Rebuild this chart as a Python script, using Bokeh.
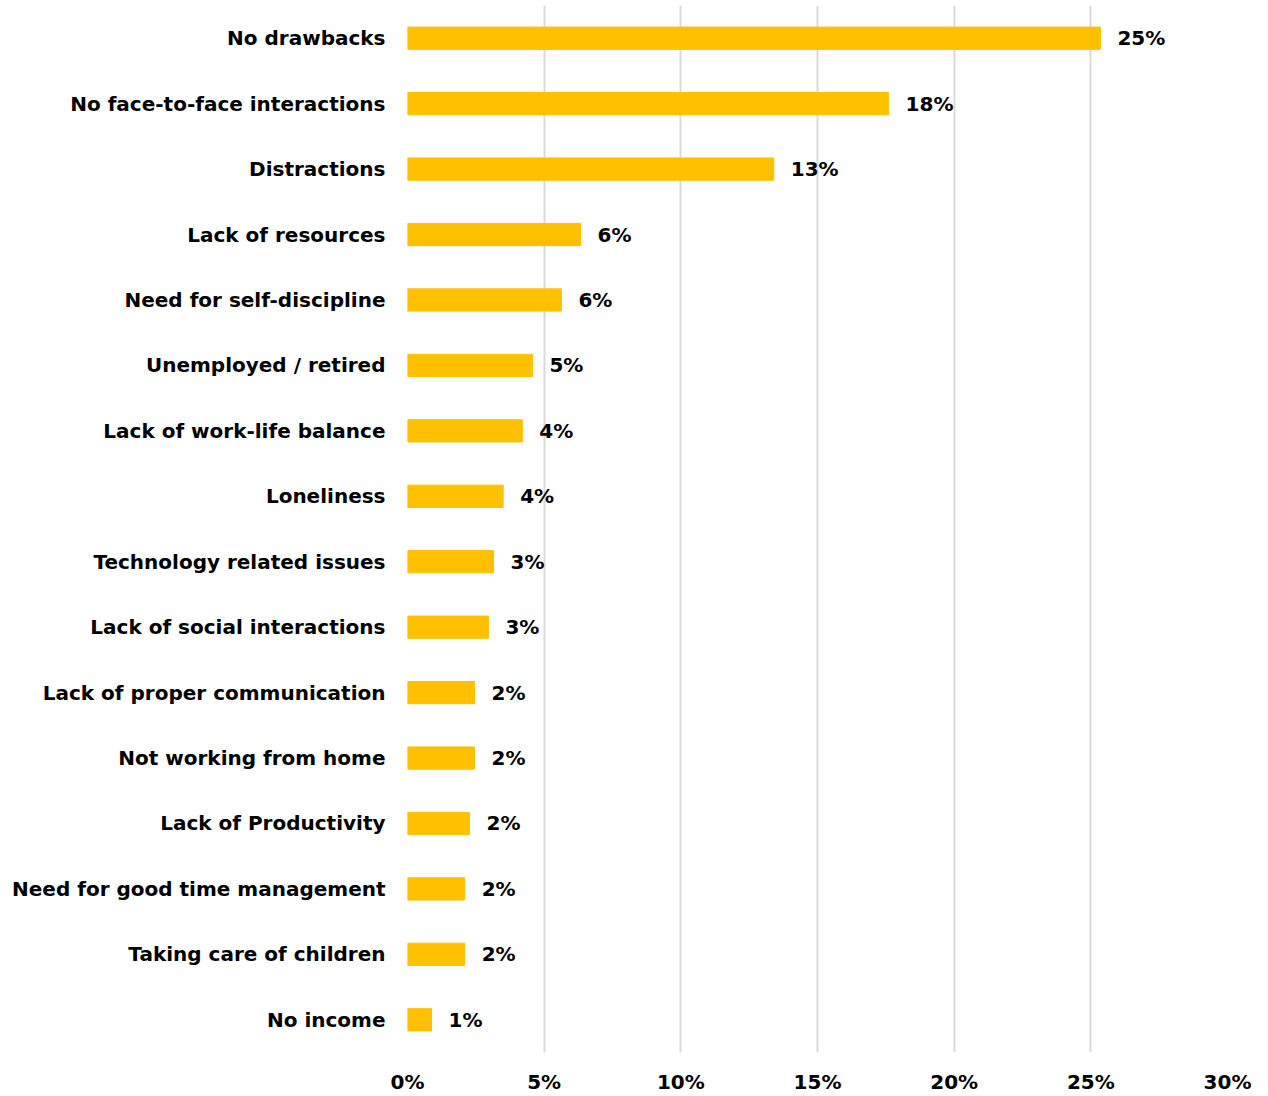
from bokeh.plotting import figure
from bokeh.models import FactorRange, Range1d, FixedTicker, PrintfTickFormatter, ColumnDataSource
from bokeh.core.properties import value
from bokeh.embed import file_html
from bokeh.resources import INLINE

categories = [
    "No drawbacks",
    "No face-to-face interactions",
    "Distractions",
    "Lack of resources",
    "Need for self-discipline",
    "Unemployed / retired",
    "Lack of work-life balance",
    "Loneliness",
    "Technology related issues",
    "Lack of social interactions",
    "Lack of proper communication",
    "Not working from home",
    "Lack of Productivity",
    "Need for good time management",
    "Taking care of children",
    "No income",
]
shares = [25.35, 17.6, 13.4, 6.33, 5.63, 4.57, 4.2, 3.5, 3.15, 2.96, 2.45, 2.45, 2.27, 2.09, 2.09, 0.88]
share_labels = ["25%", "18%", "13%", "6%", "6%", "5%", "4%", "4%", "3%", "3%", "2%", "2%", "2%", "2%", "2%", "1%"]
x_ticks = [0, 5, 10, 15, 20, 25, 30]

FONT = "DejaVu Sans"
FS = "20px"

src = ColumnDataSource(dict(cat=categories, val=shares, lab=share_labels))

p = figure(
    width=1268, height=1096,
    y_range=FactorRange(factors=categories[::-1]),
    x_range=Range1d(0, 30),
    output_backend="svg", toolbar_location=None,
    min_border_left=407, min_border_right=41, min_border_top=5, min_border_bottom=41,
)
p.outline_line_color = None
p.background_fill_color = "white"

p.hbar(y="cat", left=0, right="val", height=0.34, color="#FFC000", source=src)
p.text(x="val", y="cat", text="lab", source=src, x_offset=17,
       text_baseline="middle", text_align="left",
       text_font=value(FONT), text_font_style="bold", text_font_size=FS, text_color="black")

p.ygrid.grid_line_color = None
p.xgrid.grid_line_color = "#d9d9d9"
p.xgrid.grid_line_width = 2

p.xaxis.ticker = FixedTicker(ticks=x_ticks)
p.xaxis.formatter = PrintfTickFormatter(format="%d%%")
for ax in (p.xaxis, p.yaxis):
    ax.axis_line_color = None
    ax.major_tick_line_color = None
    ax.minor_tick_line_color = None
    ax.major_label_text_font = FONT
    ax.major_label_text_font_style = "bold"
    ax.major_label_text_font_size = FS
    ax.major_label_text_color = "black"
p.yaxis.major_label_standoff = 16
p.xaxis.major_label_standoff = 11

open("out.html", "w").write(file_html(p, INLINE))
